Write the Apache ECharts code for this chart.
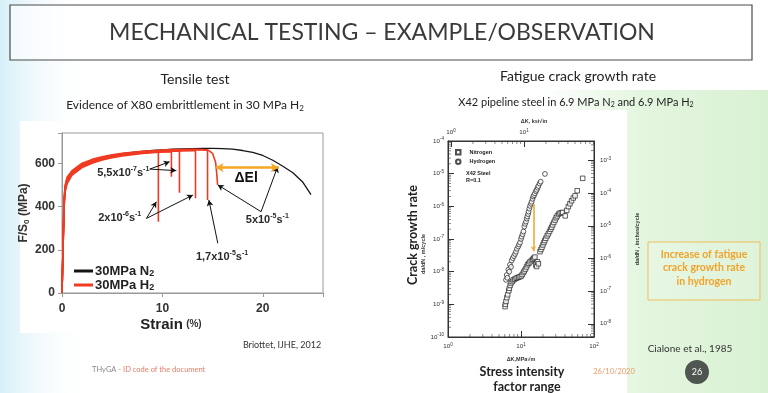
<!DOCTYPE html>
<html><head><meta charset="utf-8">
<script src="https://cdn.jsdelivr.net/npm/echarts@6/dist/echarts.min.js"></script>
<style>html,body{margin:0;padding:0;background:#fff}#c{width:768px;height:393px}</style>
</head><body><div id="c"></div>
<script>
// ---------------- Tensile test data (strain %, F/S0 MPa) ----------------
const strainTicks = [0, 10, 20];
const stressTicks = [0, 200, 400, 600];
const curveN2 = [[0,0],[0.1,200],[0.2,400],[0.3,480],[0.5,520],[1,555],[2,590],[3,610],[4,625],[5,636],[6,644],[7,650],[8,655],[9,659],[10,662],[11,665],[12,667],[13,668],[14,669],[15,669],[16,668],[17,665],[18,659],[19,650],[20,636],[21,614],[22,586],[23,556],[24,512],[24.8,455]];
const curveH2a = [[0,0],[0.1,210],[0.2,420],[0.3,490],[0.5,530],[1,562],[2,596],[3,614],[4,627],[5,636],[6,643],[7,648],[8,652],[9,655],[9.6,656],[9.6,330]];
const curveH2b = [[0,0],[0.1,190],[0.2,390],[0.3,465],[0.5,505],[1,545],[2,580],[3,600],[4,615],[5,626],[6,634],[7,640],[8,645],[9,649],[10,652],[10.9,654],[10.9,538]];
const curveH2c = [[0,0],[0.1,200],[0.2,405],[0.3,478],[0.5,518],[1,553],[2,588],[3,607],[4,621],[5,631],[6,639],[7,645],[8,649],[9,652],[10,655],[11,657],[11.7,658],[11.7,464]];
const curveH2d = [[0,0],[0.1,195],[0.2,398],[0.3,472],[0.5,512],[1,550],[2,585],[3,604],[4,618],[5,629],[6,637],[7,643],[8,648],[9,651],[10,654],[11,656],[12,657],[13,658],[13.3,658],[13.3,438]];
const curveH2e = [[0,0],[0.1,205],[0.2,412],[0.3,485],[0.5,524],[1,558],[2,592],[3,611],[4,624],[5,634],[6,641],[7,647],[8,651],[9,654],[10,657],[11,659],[12,661],[13,662],[14,662],[14.5,661],[14.5,430]];
const curveH2f = [[0,0],[0.1,215],[0.2,425],[0.3,495],[0.5,535],[1,566],[2,600],[3,618],[4,630],[5,639],[6,646],[7,651],[8,655],[9,658],[10,661],[11,663],[12,664],[13,665],[14,664],[14.6,660],[15,646],[15.3,605],[15.4,560],[15.5,500]];
const tensileArrows = [
  [[8.74,573],[10.72,607]], [[8.74,573],[11.39,566]],
  [[8.41,345],[9.40,422]],  [[8.41,345],[13.04,453]],
  [[15.52,230],[14.63,430]],
  [[19.83,376],[15.52,500]], [[19.83,376],[21.48,584]]
];
const deltaElArrow = [[15.3,580],[21.6,580]];
const tensileNotes = [
  {txt:'5,5x10{s|-7}s{s|-1}', at:[6.1,555]},
  {txt:'2x10{s|-6}s{s|-1}', at:[5.75,347]},
  {txt:'1,7x10{s|-5}s{s|-1}', at:[15.94,168]},
  {txt:'5x10{s|-5}s{s|-1}', at:[20.45,338]},
  {txt:'{b|ΔEl}', at:[18.35,530]}
];

// ---------------- Fatigue crack growth data (ΔK MPa√m, da/dN m/cycle) ----------------
const hydrogenPts = [[6.23,5.6e-9],[6.37,7.9e-9],[6.5,6.5e-9],[6.71,1.15e-8],[6.9,1.0e-8],[7.06,1.63e-8],[7.3,1.4e-8],[7.45,2.2e-8],[7.7,2.6e-8],[8.0,3.0e-8],[8.3,3.5e-8],[8.55,4.1e-8],[8.8,5.0e-8],[9.18,5.9e-8],[9.4,6.8e-8],[9.7,7.8e-8],[10.0,1.0e-7],[10.2,1.18e-7],[10.5,1.4e-7],[10.8,1.7e-7],[11.1,2.4e-7],[11.4,2.9e-7],[11.7,3.4e-7],[12.0,4.2e-7],[12.2,4.9e-7],[12.5,5.8e-7],[12.7,6.9e-7],[13.0,8.5e-7],[13.3,1.03e-6],[13.7,1.2e-6],[14.0,1.38e-6],[14.4,1.7e-6],[14.7,2.0e-6],[15.1,2.2e-6],[15.5,2.5e-6],[16.0,2.9e-6],[16.4,3.2e-6],[16.9,3.7e-6],[17.3,4.2e-6],[18.0,5.0e-6],[18.6,5.7e-6],[21.3,9.8e-6]];
const nitrogenPts = [[6.04,8.5e-10],[6.1,1.0e-9],[6.23,1.23e-9],[6.4,1.6e-9],[6.57,1.96e-9],[6.8,2.6e-9],[6.92,3.1e-9],[7.1,3.8e-9],[7.3,4.5e-9],[7.6,5.0e-9],[7.85,5.6e-9],[8.2,5.9e-9],[8.55,6.3e-9],[8.9,6.5e-9],[9.3,6.8e-9],[9.7,7.0e-9],[10.1,7.4e-9],[10.4,8.2e-9],[10.8,9.4e-9],[11.1,1.05e-8],[11.5,1.2e-8],[11.9,1.4e-8],[12.3,1.63e-8],[12.8,1.8e-8],[13.3,2.0e-8],[13.9,2.2e-8],[14.5,2.4e-8],[15.0,2.6e-8],[15.5,2.8e-8],[15.9,1.6e-8],[16.4,1.44e-8],[16.8,2.0e-8],[17.3,1.74e-8],[18.2,4.1e-8],[18.8,4.8e-8],[19.4,5.6e-8],[20.0,6.6e-8],[20.6,7.8e-8],[21.2,9.0e-8],[21.9,1.05e-7],[22.8,1.25e-7],[23.7,1.44e-7],[24.6,1.7e-7],[25.5,2.0e-7],[26.3,2.3e-7],[27.1,2.7e-7],[28.2,3.2e-7],[29.3,3.8e-7],[30.3,4.5e-7],[31.4,5.1e-7],[32.8,5.8e-7],[34.2,6.2e-7],[35.8,6.4e-7],[37.3,6.5e-7],[40.3,5.1e-7],[42.3,7.5e-7],[44.5,9.8e-7],[46.8,1.2e-6],[49.3,1.48e-6],[52,1.8e-6],[55,2.1e-6],[58.9,3.0e-6],[70,7.2e-6]];
const hydrogenGapArrow = [[14.8,1.15e-6],[14.8,4.2e-8]];
const minorMultipliers = [2,3,4,5,6,7,8,9];
const decadesMPa = [1,10];
const decadesKsi = [1,10];
const decadesRateM = [1e-10,1e-9,1e-8,1e-7,1e-6,1e-5];
const decadesRateIn = [1e-9,1e-8,1e-7,1e-6,1e-5,1e-4,1e-3];

// ---------------- helpers ----------------
function powLabel(v){
  const e = Math.log10(v), r = Math.round(e);
  if (Math.abs(e - r) > 0.02) return '';
  return '10{s|' + (r < 0 ? '-' + (-r) : r) + '}';
}
function minorList(decades, lo, hi){
  const out = [];
  decades.forEach(d => minorMultipliers.forEach(m => { const v = d*m; if (v > lo && v < hi) out.push(v); }));
  return out;
}
const supRich = {s:{fontSize:4.6, lineHeight:5, verticalAlign:'top', color:'#333', fontFamily:'Liberation Sans'}};
const smallLbl = {fontSize:6.2, lineHeight:9, color:'#333', fontFamily:'Liberation Sans', rich:supRich, formatter: powLabel};

const INCH = 0.0254, KSI = 1.0988;
const rateMin = 1e-10, rateMax = 1e-4, kMin = 1, kMax = 100;

const chart = echarts.init(document.getElementById('c'), null, {renderer:'canvas'});
const redC = '#f03a22';
const hSeries = [curveH2a,curveH2b,curveH2c,curveH2d,curveH2e,curveH2f].map(d => ({
  type:'line', name:'30MPa H2', data:d, xAxisIndex:0, yAxisIndex:0, showSymbol:false, symbol:'none',
  lineStyle:{color:redC, width:1.6}, itemStyle:{color:redC}, z:3, silent:true
}));

const tickSym = (offset, size) => ({type:'scatter', symbol:'rect', symbolSize:size, symbolOffset:offset, clip:false, silent:true,
  itemStyle:{color:'#333'}, z:4});

const option = {
  animation:false,
  backgroundColor:'#ffffff',
  graphic:[
    {type:'rect', shape:{x:0,y:0,width:90,height:393}, z:-10, silent:true,
      style:{fill:new echarts.graphic.LinearGradient(0,0,1,0,[{offset:0,color:'#d6eff8'},{offset:1,color:'rgba(255,255,255,0)'}])}},
    {type:'rect', shape:{x:540,y:90,width:228,height:303}, z:-10, silent:true,
      style:{fill:new echarts.graphic.LinearGradient(0,0,1,0,[{offset:0,color:'rgba(226,246,222,0)'},{offset:0.45,color:'#e3f6df'},{offset:1,color:'#d9f1d3'}])}},
    {type:'rect', shape:{x:20,y:121,width:316,height:212}, z:-9, silent:true, style:{fill:'#ffffff'}},
    {type:'rect', shape:{x:396,y:110,width:231,height:283}, z:-9, silent:true, style:{fill:'#ffffff'}},
    {type:'rect', shape:{x:10,y:5,width:742,height:55}, z:-8, silent:true, style:{fill:'rgba(255,255,255,0.6)', stroke:'#4a4a4a', lineWidth:1.2}},
    {type:'text', x:382, y:33, silent:true, style:{text:'MECHANICAL TESTING – EXAMPLE/OBSERVATION', fill:'#3a3a3a', font:'23px Lato', align:'center', verticalAlign:'middle'}},
    {type:'text', x:195, y:79, silent:true, style:{text:'Tensile test', fill:'#222', font:'14px Lato', align:'center', verticalAlign:'middle'}},
    {type:'text', x:185, y:105, silent:true, style:{text:'Evidence of X80 embrittlement in 30 MPa H{b|2}', fill:'#222', font:'12px Lato', align:'center', verticalAlign:'middle', lineHeight:14,
      rich:{b:{font:'8px Lato', fill:'#222', verticalAlign:'bottom', lineHeight:9}}}},
    {type:'text', x:578, y:76, silent:true, style:{text:'Fatigue crack growth rate', fill:'#222', font:'14px Lato', align:'center', verticalAlign:'middle'}},
    {type:'text', x:576, y:102, silent:true, style:{text:'X42 pipeline steel in 6.9 MPa N{b|2} and 6.9 MPa H{b|2}', fill:'#222', font:'11px Lato', align:'center', verticalAlign:'middle', lineHeight:13,
      rich:{b:{font:'7px Lato', fill:'#222', verticalAlign:'bottom', lineHeight:8}}}},
    {type:'text', x:413, y:235, rotation:Math.PI/2, silent:true, style:{text:'Crack growth rate', fill:'#222', font:'bold 12.5px Lato', align:'center', verticalAlign:'middle'}},
    {type:'text', x:522, y:372, silent:true, style:{text:'Stress intensity', fill:'#222', font:'bold 12.5px Lato', align:'center', verticalAlign:'middle'}},
    {type:'text', x:527, y:387, silent:true, style:{text:'factor range', fill:'#222', font:'bold 12.5px Lato', align:'center', verticalAlign:'middle'}},
    {type:'text', x:466, y:177, silent:true, style:{text:'X42 Steel\nR=0.1', fill:'#222', font:'bold 5.5px Liberation Sans', lineHeight:6.8, align:'left', verticalAlign:'middle'}},
    {type:'text', x:282, y:345, silent:true, style:{text:'Briottet, IJHE, 2012', fill:'#333', font:'9px Lato', align:'center', verticalAlign:'middle'}},
    {type:'text', x:690, y:349, silent:true, style:{text:'Cialone et al., 1985', fill:'#333', font:'10px Lato', align:'center', verticalAlign:'middle'}},
    {type:'text', x:92, y:370, silent:true, style:{text:'THyGA {r|- ID code of the document}', fill:'#888', font:'7.5px Lato', align:'left', verticalAlign:'middle',
      rich:{r:{font:'7.5px Lato', fill:'#ea7a66'}}}},
    {type:'text', x:614, y:372, silent:true, style:{text:'26/10/2020', fill:'#eb9a68', font:'7.5px Lato', align:'center', verticalAlign:'middle'}},
    {type:'circle', shape:{cx:697, cy:372, r:12}, silent:true, style:{fill:'#4f5550'}},
    {type:'text', x:697, y:372, silent:true, style:{text:'26', fill:'#fff', font:'9px Lato', align:'center', verticalAlign:'middle'}},
    {type:'rect', shape:{x:648,y:242,width:112,height:58}, silent:true, style:{fill:'rgba(255,255,255,0.15)', stroke:'#f2bd5a', lineWidth:1}},
    {type:'text', x:704, y:268, silent:true, style:{text:'Increase of fatigue\ncrack growth rate\nin hydrogen', fill:'#f2a32a', font:'bold 10.5px Lato', lineHeight:13.5, align:'center', verticalAlign:'middle'}}
  ],
  legend:[
    {data:['30MPa N2','30MPa H2'], left:69, top:259, orient:'vertical', itemGap:0, itemWidth:19, itemHeight:3, icon:'rect',
      selectedMode:false, textStyle:{fontFamily:'Liberation Sans', fontWeight:'bold', fontSize:13, color:'#222', lineHeight:14, padding:[0,0,0,-3],
        rich:{sb:{fontFamily:'Liberation Sans', fontWeight:'bold', fontSize:9, verticalAlign:'bottom', lineHeight:9, color:'#222'}}},
      formatter: n => '30MPa ' + n.charAt(6) + '{sb|2}'},
    {data:['Nitrogen','Hydrogen'], left:455, top:149, padding:0, orient:'vertical', itemGap:3, itemWidth:4.5, itemHeight:4.5,
      selectedMode:false, textStyle:{fontFamily:'Liberation Sans', fontWeight:'bold', fontSize:5.5, lineHeight:6, color:'#222', padding:[0,0,0,4]}}
  ],
  grid:[
    {left:62, top:133, width:261, height:160, show:true, borderColor:'#9a9a9a', borderWidth:1, backgroundColor:'transparent'},
    {left:448, top:141, width:146, height:196, show:true, borderColor:'#333', borderWidth:1, backgroundColor:'transparent'}
  ],
  xAxis:[
    {type:'value', gridIndex:0, min:0, max:26, interval:10,
      axisLine:{show:true, lineStyle:{color:'#999'}}, axisTick:{show:true, length:4, lineStyle:{color:'#999'}},
      splitLine:{show:false},
      axisLabel:{margin:10, fontFamily:'Liberation Sans', fontWeight:'bold', fontSize:12, color:'#333', formatter:v => strainTicks.includes(v) ? String(v) : ''},
      name:'{a|Strain} {p|(%)}', nameLocation:'middle', nameGap:24,
      nameTextStyle:{padding:[0,43,0,0], rich:{a:{fontFamily:'Liberation Sans', fontWeight:'bold', fontSize:15, color:'#222'}, p:{fontFamily:'Liberation Sans', fontWeight:'bold', fontSize:10, color:'#333'}}}},
    {type:'log', gridIndex:1, logBase:10, min:kMin, max:kMax, position:'bottom',
      axisLine:{show:true, lineStyle:{color:'#333'}}, axisTick:{show:true, inside:true, length:6, lineStyle:{color:'#333'}},
      splitLine:{show:false}, axisLabel:Object.assign({margin:5}, smallLbl),
      name:'ΔK,MPa√m', nameLocation:'middle', nameGap:19, nameTextStyle:{fontFamily:'Liberation Sans', fontSize:5.5, fontWeight:'bold', color:'#333'}},
    {type:'log', gridIndex:1, logBase:10, min:kMin/KSI, max:kMax/KSI, position:'top',
      axisLine:{show:true, lineStyle:{color:'#333'}}, axisTick:{show:true, inside:true, length:6, lineStyle:{color:'#333'}},
      splitLine:{show:false}, axisLabel:Object.assign({margin:4}, smallLbl),
      name:'ΔK, ksi√in', nameLocation:'middle', nameGap:17, nameTextStyle:{fontFamily:'Liberation Sans', fontSize:5.5, fontWeight:'bold', color:'#333', padding:[0,0,0,26]}}
  ],
  yAxis:[
    {type:'value', gridIndex:0, min:0, max:740, interval:200,
      axisLine:{show:true, lineStyle:{color:'#999'}}, axisTick:{show:true, length:4, lineStyle:{color:'#999'}},
      splitLine:{show:false},
      axisLabel:{margin:7, fontFamily:'Liberation Sans', fontWeight:'bold', fontSize:12, color:'#333', formatter:v => stressTicks.includes(v) ? String(v) : ''},
      name:'F/S{b|0} (MPa)', nameLocation:'middle', nameGap:27, nameRotate:90,
      nameTextStyle:{fontFamily:'Liberation Sans', fontWeight:'bold', fontSize:12, color:'#333', lineHeight:14,
        rich:{b:{fontFamily:'Liberation Sans', fontWeight:'bold', fontSize:8, verticalAlign:'bottom', lineHeight:8, color:'#333'}}}},
    {type:'log', gridIndex:1, logBase:10, min:rateMin, max:rateMax, position:'left',
      axisLine:{show:true, lineStyle:{color:'#333'}}, axisTick:{show:true, inside:true, length:6, lineStyle:{color:'#333'}},
      splitLine:{show:false}, axisLabel:Object.assign({margin:4}, smallLbl),
      name:'da/dN , m/cycle', nameLocation:'middle', nameGap:17, nameRotate:90, nameTextStyle:{fontFamily:'Liberation Sans', fontSize:5.5, fontWeight:'bold', color:'#333', padding:[0,0,0,-30]}},
    {type:'log', gridIndex:1, logBase:10, min:rateMin/INCH, max:rateMax/INCH, position:'right',
      axisLine:{show:true, lineStyle:{color:'#333'}}, axisTick:{show:true, inside:true, length:6, lineStyle:{color:'#333'}},
      splitLine:{show:false}, axisLabel:Object.assign({margin:6}, smallLbl),
      name:'da/dN , inches/cycle', nameLocation:'middle', nameGap:40, nameRotate:90, nameTextStyle:{fontFamily:'Liberation Sans', fontSize:5.5, fontWeight:'bold', color:'#333'}}
  ],
  series:[
    {type:'line', name:'30MPa N2', data:curveN2, xAxisIndex:0, yAxisIndex:0, showSymbol:false, symbol:'none',
      lineStyle:{color:'#151515', width:1.3}, itemStyle:{color:'#151515'}, z:2, silent:true},
    ...hSeries,
    {type:'line', name:'arrows', data:[], xAxisIndex:0, yAxisIndex:0, silent:true, z:5,
      markLine:{silent:true, symbol:['none','arrow'], symbolSize:[5,6], label:{show:false},
        lineStyle:{color:'#111', width:1, type:'solid'},
        data: tensileArrows.map(a => [{coord:a[0]},{coord:a[1]}]).concat([
          [{coord:deltaElArrow[0], lineStyle:{color:'#f5a623', width:2.5}, symbol:'arrow', symbolSize:[7,8]},
           {coord:deltaElArrow[1], lineStyle:{color:'#f5a623', width:2.5}, symbol:'arrow', symbolSize:[7,8]}]
        ])}},
    {type:'scatter', name:'notes', xAxisIndex:0, yAxisIndex:0, symbol:'circle', symbolSize:2, itemStyle:{color:'rgba(0,0,0,0)'}, silent:true, z:6,
      data: tensileNotes.map(n => ({value:n.at, txt:n.txt})),
      label:{show:true, position:'inside', formatter:p => p.data.txt, fontFamily:'Liberation Sans', fontWeight:'bold', fontSize:11, color:'#2a2a2a', opacity:1,
        textBorderWidth:0, lineHeight:14,
        rich:{s:{fontFamily:'Liberation Sans', fontWeight:'bold', fontSize:7, verticalAlign:'top', lineHeight:8, color:'#2a2a2a', textBorderWidth:0},
              b:{fontFamily:'Liberation Sans', fontSize:14, fontWeight:'bold', color:'#111', textBorderWidth:0}}}},
    {type:'scatter', name:'Nitrogen', data:nitrogenPts, xAxisIndex:1, yAxisIndex:1, symbol:'rect', symbolSize:4.5,
      itemStyle:{color:'#ffffff', borderColor:'#222', borderWidth:0.9}, z:3, silent:true},
    {type:'scatter', name:'Hydrogen', data:hydrogenPts, xAxisIndex:1, yAxisIndex:1, symbol:'circle', symbolSize:4.8,
      itemStyle:{color:'#ffffff', borderColor:'#222', borderWidth:0.9}, z:3, silent:true,
      markLine:{silent:true, symbol:['none','arrow'], symbolSize:[4,5], label:{show:false},
        lineStyle:{color:'#f2a93a', width:1.6, type:'solid'},
        data:[[{coord:hydrogenGapArrow[0]},{coord:hydrogenGapArrow[1]}]]}},
    Object.assign(tickSym([0,-1.5],[0.7,3]), {xAxisIndex:1, yAxisIndex:1, data:minorList(decadesMPa,kMin,kMax).map(v => [v, rateMin])}),
    Object.assign(tickSym([0,1.5],[0.7,3]), {xAxisIndex:2, yAxisIndex:1, data:minorList(decadesKsi,kMin/KSI,kMax/KSI).map(v => [v, rateMax])}),
    Object.assign(tickSym([1.5,0],[3,0.7]), {xAxisIndex:1, yAxisIndex:1, data:minorList(decadesRateM,rateMin,rateMax).map(v => [kMin, v])}),
    Object.assign(tickSym([-1.5,0],[3,0.7]), {xAxisIndex:1, yAxisIndex:2, data:minorList(decadesRateIn,rateMin/INCH,rateMax/INCH).map(v => [kMax, v])})
  ]
};
chart.setOption(option);
</script></body></html>
